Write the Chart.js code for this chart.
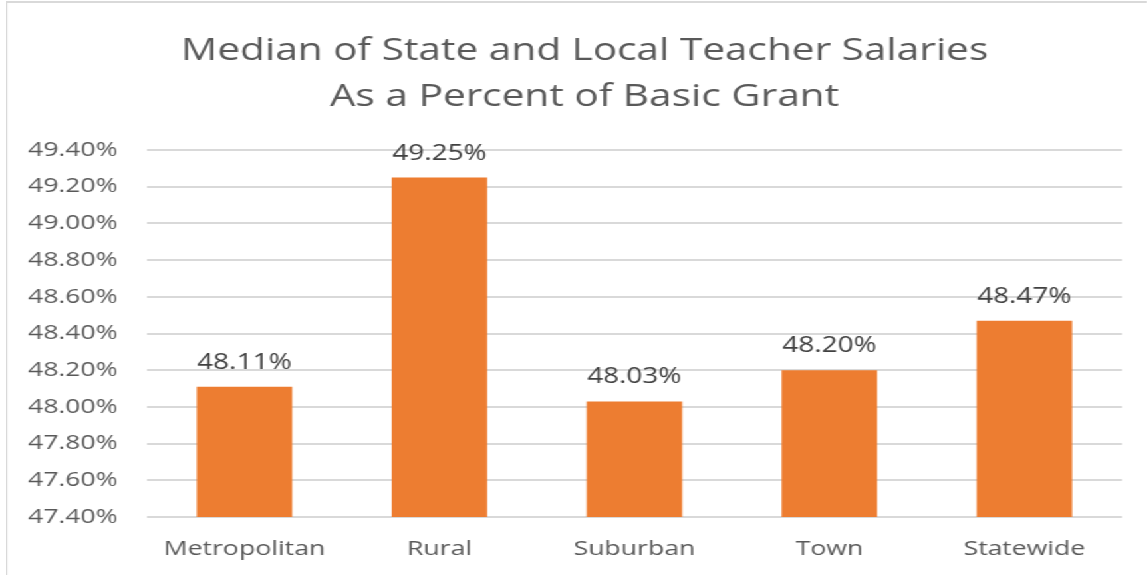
<!DOCTYPE html>
<html lang="en">
<head>
    <meta charset="UTF-8">
    <title>Median of State and Local Teacher Salaries</title>
    <style>
        html, body {
            margin: 0;
            padding: 0;
            width: 1148px;
            height: 575px;
            background: white;
            overflow: hidden;
        }
        /* the source picture is stretched sideways, so draw narrow and scale x */
        .frame {
            position: absolute;
            left: 6px;
            top: 1px;
            border-left: 1.5px solid #d9d9d9;
            border-top: 2px solid #d9d9d9;
            transform: scaleX(1.33);
            transform-origin: 0 0;
        }
        .box {
            width: 857px;
            height: 572px;
        }
    </style>
    <script src="https://cdn.jsdelivr.net/npm/chart.js@4.4.0/dist/chart.umd.min.js"></script>
</head>
<body>
    <div class="frame">
        <div class="box"><canvas id="myChart"></canvas></div>
    </div>
    <script>
        const categories = ['Metropolitan', 'Rural', 'Suburban', 'Town', 'Statewide'];
        const medianPercent = [48.11, 49.25, 48.03, 48.20, 48.47];
        const titleLines = ['Median of State and Local Teacher Salaries', 'As a Percent of Basic Grant'];
        const yMin = 47.40;
        const yMax = 49.40;
        const yStep = 0.20;

        const FONT = "'Open Sans', sans-serif";

        // the title sits a bit left of the plot centre in the original,
        // so it is drawn here instead of with the title plugin
        const chartTitle = {
            id: 'chartTitle',
            afterDraw(chart) {
                const ctx = chart.ctx;
                ctx.save();
                ctx.font = '30.5px ' + FONT;
                ctx.fillStyle = '#595959';
                ctx.textAlign = 'center';
                ctx.textBaseline = 'middle';
                titleLines.forEach((line, i) => {
                    ctx.fillText(line, 434, 48 + i * 46);
                });
                ctx.restore();
            }
        };

        // value labels above each bar
        const barLabels = {
            id: 'barLabels',
            afterDatasetsDraw(chart) {
                const ctx = chart.ctx;
                const meta = chart.getDatasetMeta(0);
                ctx.save();
                ctx.font = '21px ' + FONT;
                ctx.fillStyle = '#404040';
                ctx.textAlign = 'center';
                ctx.textBaseline = 'alphabetic';
                meta.data.forEach((bar, i) => {
                    ctx.fillText(medianPercent[i].toFixed(2) + '%', bar.x, bar.y - 18);
                });
                ctx.restore();
            }
        };

        const ctx = document.getElementById('myChart').getContext('2d');
        new Chart(ctx, {
            type: 'bar',
            data: {
                labels: categories,
                datasets: [{
                    data: medianPercent,
                    backgroundColor: '#ed7d31',
                    borderWidth: 0,
                    categoryPercentage: 0.49,
                    barPercentage: 1
                }]
            },
            options: {
                responsive: true,
                maintainAspectRatio: false,
                animation: false,
                layout: {
                    padding: { left: 2, right: 19, top: 147, bottom: 0 }
                },
                scales: {
                    x: {
                        grid: { display: false, drawTicks: false },
                        border: { display: false },
                        ticks: {
                            color: '#595959',
                            font: { family: FONT, size: 20 },
                            padding: 20,
                            maxRotation: 0
                        },
                        afterFit: (scale) => { scale.height = 58; }
                    },
                    y: {
                        min: yMin,
                        max: yMax,
                        grid: { color: '#d9d9d9', lineWidth: 2, drawTicks: false },
                        border: { display: false },
                        ticks: {
                            stepSize: yStep,
                            color: '#595959',
                            font: { family: FONT, size: 20 },
                            padding: 22,
                            callback: (v) => v.toFixed(2) + '%'
                        },
                        afterFit: (scale) => { scale.width = 103; }
                    }
                },
                plugins: {
                    legend: { display: false },
                    tooltip: { enabled: false },
                    title: { display: false }
                }
            },
            plugins: [barLabels, chartTitle]
        });
    </script>
</body>
</html>
